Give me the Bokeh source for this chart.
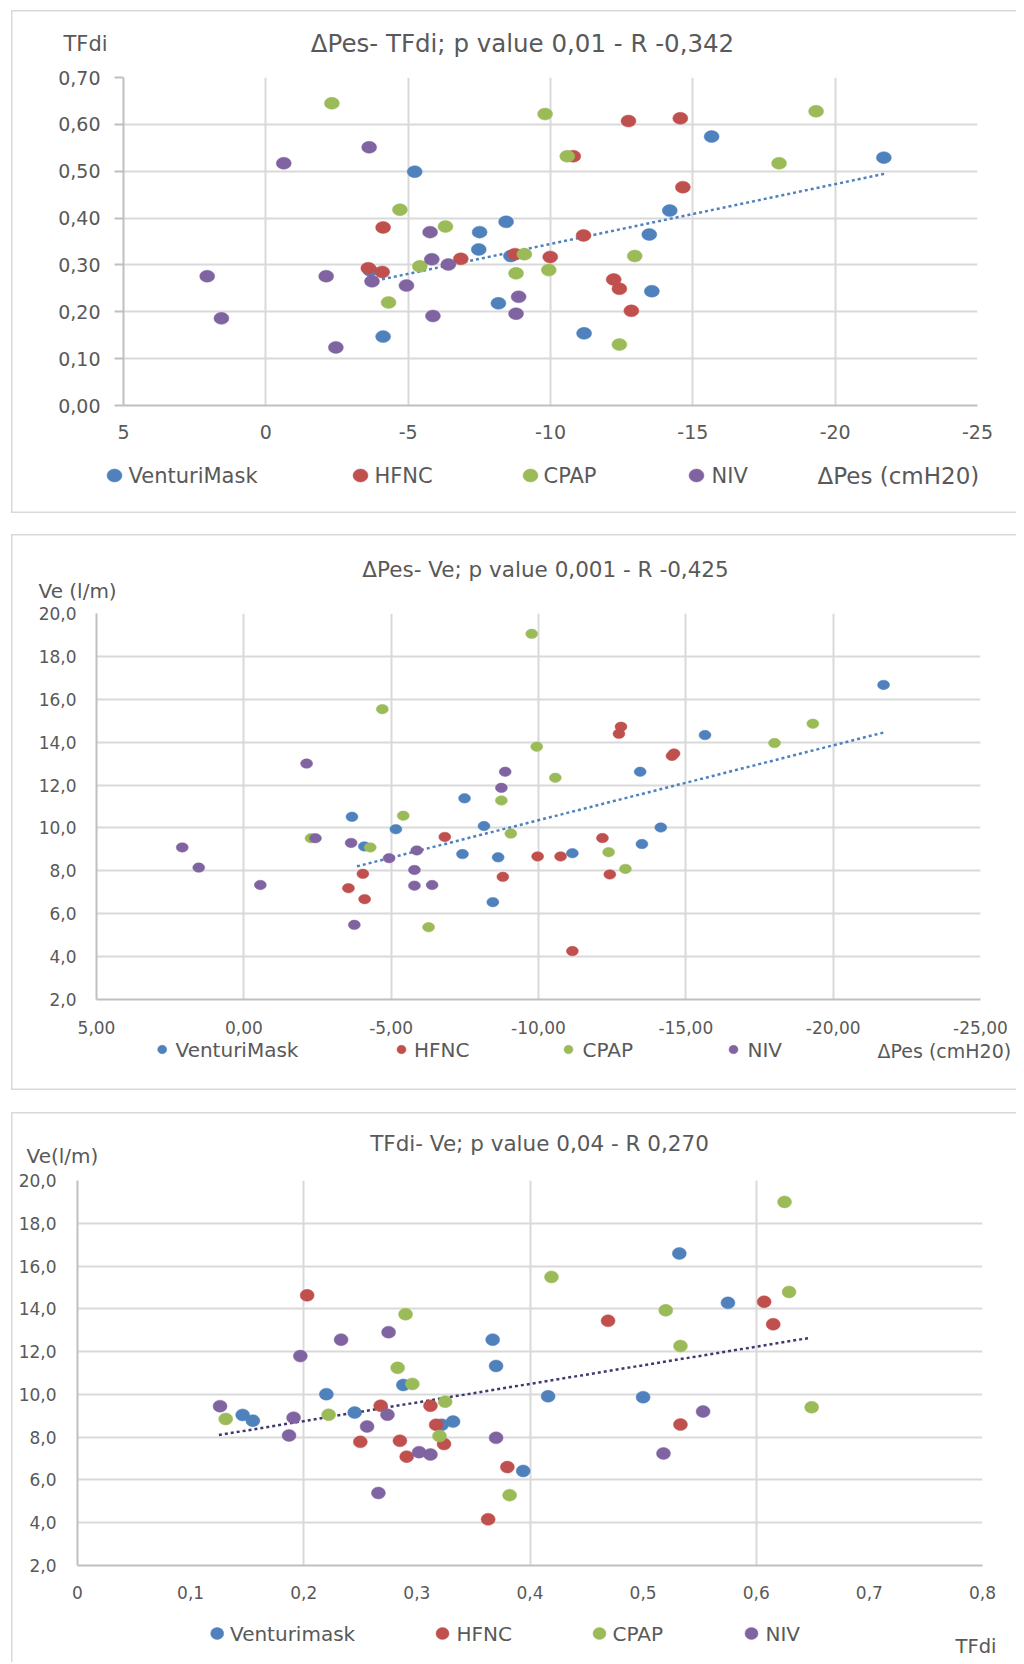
from bokeh.plotting import figure
from bokeh.models import Range1d, FixedTicker, CustomJSTickFormatter
from bokeh.embed import file_html
from bokeh.resources import INLINE
from bokeh.core.properties import value

# ---------------- data ----------------
series_names_a = ["VenturiMask", "HFNC", "CPAP", "NIV"]
series_names_b = ["Venturimask", "HFNC", "CPAP", "NIV"]

# Panel 1: dPes (x) vs TFdi (y)
p1_venturi_x = [-5.23, -7.51, -7.48, -8.44, -8.17, -4.12, -15.66, -21.71, -14.19, -13.47, -8.61, -13.56, -11.18, -3.67]
p1_venturi_y = [0.499, 0.370, 0.333, 0.392, 0.218, 0.147, 0.574, 0.529, 0.416, 0.365, 0.319, 0.244, 0.154, 0.288]
p1_hfnc_x = [-4.12, -6.85, -3.60, -4.09, -12.74, -14.56, -10.80, -14.65, -11.16, -8.75, -9.99, -12.22, -12.42, -12.84]
p1_hfnc_y = [0.380, 0.313, 0.293, 0.285, 0.607, 0.613, 0.532, 0.466, 0.363, 0.323, 0.317, 0.269, 0.249, 0.202]
p1_cpap_x = [-2.32, -4.71, -6.31, -5.41, -4.31, -9.81, -19.33, -10.59, -18.03, -9.08, -12.96, -8.79, -9.94, -12.42]
p1_cpap_y = [0.645, 0.418, 0.382, 0.297, 0.220, 0.622, 0.628, 0.532, 0.517, 0.323, 0.319, 0.282, 0.289, 0.130]
p1_niv_x = [-3.63, -0.63, -5.77, -5.83, -6.41, -3.73, 2.06, -2.12, -4.94, -5.87, 1.56, -2.46, -8.88, -8.79]
p1_niv_y = [0.551, 0.517, 0.370, 0.312, 0.301, 0.265, 0.276, 0.276, 0.256, 0.191, 0.186, 0.124, 0.232, 0.196]
p1_trend_x = [-3.67, -21.77]
p1_trend_y = [0.264, 0.495]

# Panel 2: dPes (x) vs Ve (y)
p2_venturi_x = [-3.67, -5.16, -7.49, -8.15, -4.09, -7.42, -8.45, -8.63, -21.71, -15.65, -13.45, -14.15, -13.51, -11.15]
p2_venturi_y = [10.52, 9.94, 11.38, 10.09, 9.14, 8.78, 6.54, 8.63, 16.67, 14.33, 12.62, 10.02, 9.25, 8.82]
p2_hfnc_x = [-6.82, -4.04, -3.55, -4.10, -8.79, -12.80, -12.73, -14.60, -14.53, -12.17, -9.97, -10.75, -12.42, -11.15]
p2_hfnc_y = [9.58, 7.86, 7.19, 6.68, 7.72, 14.72, 14.39, 13.47, 13.36, 9.53, 8.67, 8.67, 7.83, 4.26]
p2_cpap_x = [-4.70, -5.41, -2.28, -4.29, -6.27, -8.74, -9.77, -19.31, -18.01, -9.94, -10.57, -9.06, -12.38, -12.95]
p2_cpap_y = [15.54, 10.57, 9.52, 9.09, 5.37, 11.28, 19.05, 14.86, 13.96, 13.79, 12.34, 9.74, 8.87, 8.09]
p2_niv_x = [-2.13, -2.43, -3.64, 2.09, 1.53, -0.56, -5.87, -4.93, -5.79, -5.79, -6.39, -3.75, -8.74, -8.87]
p2_niv_y = [13.00, 9.52, 9.30, 9.09, 8.15, 7.34, 8.95, 8.59, 8.04, 7.31, 7.34, 5.48, 11.87, 12.62]
p2_trend_x = [-3.84, -21.77]
p2_trend_y = [8.21, 14.47]

# Panel 3: TFdi (x) vs Ve (y)
p3_venturi_x = [0.367, 0.370, 0.288, 0.220, 0.146, 0.155, 0.245, 0.322, 0.332, 0.532, 0.575, 0.416, 0.500, 0.394]
p3_venturi_y = [12.56, 11.33, 10.44, 10.01, 9.04, 8.77, 9.15, 8.58, 8.73, 16.59, 14.28, 9.91, 9.87, 6.42]
p3_hfnc_x = [0.203, 0.268, 0.312, 0.317, 0.250, 0.285, 0.291, 0.324, 0.363, 0.607, 0.469, 0.615, 0.533, 0.380]
p3_hfnc_y = [14.63, 9.47, 9.47, 8.58, 7.78, 7.83, 7.09, 7.68, 4.16, 14.33, 13.44, 13.28, 8.59, 6.60]
p3_cpap_x = [0.290, 0.283, 0.296, 0.131, 0.222, 0.325, 0.320, 0.625, 0.419, 0.629, 0.520, 0.533, 0.649, 0.382]
p3_cpap_y = [13.75, 11.24, 10.49, 8.85, 9.05, 9.66, 8.05, 19.00, 15.49, 14.79, 13.93, 12.26, 9.40, 5.29]
p3_niv_x = [0.275, 0.233, 0.197, 0.126, 0.191, 0.187, 0.256, 0.274, 0.302, 0.312, 0.370, 0.266, 0.553, 0.518]
p3_niv_y = [12.91, 12.56, 11.79, 9.45, 8.91, 8.08, 8.50, 9.05, 7.30, 7.19, 7.97, 5.39, 9.20, 7.24]
p3_trend_x = [0.125, 0.647]
p3_trend_y = [8.10, 12.64]

# ticks
p1_x_ticks = [5, 0, -5, -10, -15, -20, -25]
p1_y_ticks = [0.0, 0.1, 0.2, 0.3, 0.4, 0.5, 0.6, 0.7]
p2_x_ticks = [5, 0, -5, -10, -15, -20, -25]
p2_y_ticks = [2, 4, 6, 8, 10, 12, 14, 16, 18, 20]
p3_x_ticks = [0.0, 0.1, 0.2, 0.3, 0.4, 0.5, 0.6, 0.7, 0.8]
p3_x_grid = [0.0, 0.2, 0.4, 0.6, 0.8]
p3_y_ticks = [2, 4, 6, 8, 10, 12, 14, 16, 18, 20]

titles = ["\u0394Pes- TFdi; p value 0,01 - R -0,342",
          "\u0394Pes- Ve; p value 0,001 - R -0,425",
          "TFdi- Ve; p value 0,04 - R 0,270"]

# ---------------- style ----------------
COLORS = ["#4F81BD", "#C0504D", "#9BBB59", "#8064A2"]
TEXT = "#595959"
GRID = "#D9D9D9"
AXIS = "#BFBFBF"
FONT = "DejaVu Sans"
PANEL_X = 11
PANEL_W = 1005


def make_panel(cfg):
    shadow = "inset 1.5px 0 0 #D9D9D9, inset 0 1.5px 0 #D9D9D9"
    if cfg["bottom_border"]:
        shadow += ", inset 0 -1.5px 0 #D9D9D9"
    p = figure(width=PANEL_W, height=cfg["H"],
               x_range=Range1d(*cfg["xr"]), y_range=Range1d(*cfg["yr"]),
               output_backend="svg", toolbar_location=None,
               min_border_left=cfg["mbl"], min_border_right=cfg["mbr"],
               min_border_top=cfg["mbt"], min_border_bottom=cfg["mbb"],
               border_fill_color=None, background_fill_color="white",
               outline_line_color=None, margin=(cfg["mt"], 0, 0, PANEL_X),
               styles={"box-shadow": shadow})
    FL = PANEL_X + cfg["mbl"]
    FR = PANEL_X + PANEL_W - cfg["mbr"]
    FT = cfg["y0"] + cfg["mbt"]
    FB = cfg["y0"] + cfg["H"] - cfg["mbb"]
    x0, x1 = cfg["xr"]
    y0, y1 = cfg["yr"]

    def to_data(px, py):
        return (x0 + (px - FL) / (FR - FL) * (x1 - x0),
                y0 + (FB - py) / (FB - FT) * (y1 - y0))

    # axes
    p.xaxis.ticker = FixedTicker(ticks=cfg["xt"])
    p.yaxis.ticker = FixedTicker(ticks=cfg["yt"])
    p.xaxis.formatter = CustomJSTickFormatter(code=cfg["xfmt"])
    p.yaxis.formatter = CustomJSTickFormatter(code=cfg["yfmt"])
    p.xgrid.ticker = FixedTicker(ticks=cfg["xg"])
    p.ygrid.ticker = FixedTicker(ticks=cfg["yt"])
    for g in (p.xgrid, p.ygrid):
        g.grid_line_color = GRID
        g.grid_line_width = 2
    for ax in (p.xaxis, p.yaxis):
        ax.axis_line_color = AXIS
        ax.axis_line_width = 2
        ax.minor_tick_line_color = None
        ax.major_tick_in = 0
        ax.major_label_text_font = FONT
        ax.major_label_text_font_size = cfg["tick_fs"]
        ax.major_label_text_color = TEXT
    p.xaxis.major_tick_out = 0
    p.xaxis.major_tick_line_color = None
    p.xaxis.major_label_standoff = cfg["x_standoff"]
    p.yaxis.major_label_standoff = cfg["y_standoff"]
    if cfg["ytick_out"]:
        p.yaxis.major_tick_out = cfg["ytick_out"]
        p.yaxis.major_tick_line_color = AXIS
        p.yaxis.major_tick_line_width = 2
    else:
        p.yaxis.major_tick_out = 0
        p.yaxis.major_tick_line_color = None

    # trend line
    p.line(cfg["trend"][0], cfg["trend"][1], line_color=cfg["trend_color"],
           line_width=2.5, line_dash="3 3")

    # points
    for color, (xs, ys) in zip(COLORS, cfg["series"]):
        p.ellipse(x=xs, y=ys, width=cfg["mw"], height=cfg["mh"],
                  width_units="screen", height_units="screen",
                  fill_color=color, line_color=color, line_width=0.5)

    # legend row below the x axis (drawn at overlay level so it is not clipped)
    lg = cfg["legend"]
    for name, color, mx, tx in zip(cfg["names"], COLORS, lg["marker_x"], lg["text_x"]):
        mdx, mdy = to_data(mx, lg["cy"])
        p.ellipse(x=[mdx], y=[mdy], width=lg["mw"], height=lg["mh"],
                  width_units="screen", height_units="screen",
                  fill_color=color, line_color=color, line_width=0.5, level="overlay")
        tdx, tdy = to_data(tx, lg["cy"])
        p.text(x=[tdx], y=[tdy], text=[name], text_font=value(FONT),
               text_font_size=value(lg["fs"]), text_color=TEXT, text_align="left",
               text_baseline="middle", level="overlay")

    # titles and axis titles (overlay level, not clipped)
    for text, px, py, fs, align in cfg["labels"]:
        dx, dy = to_data(px, py)
        p.text(x=[dx], y=[dy], text=[text], text_font=value(FONT),
               text_font_size=value(fs), text_color=TEXT, text_align=align,
               text_baseline="middle", level="overlay")
    return p


fmt_int = "return tick.toFixed(0);"
fmt2 = "return tick.toFixed(2).replace('.', ',');"
fmt1 = "return tick.toFixed(1).replace('.', ',');"
fmt3x = "return tick === 0 ? '0' : tick.toFixed(1).replace('.', ',');"

cfg1 = dict(H=503, y0=10, mt=10, mbl=112, mbr=39, mbt=67, mbb=108, bottom_border=True,
            xr=(5, -25), yr=(0, 0.7), xt=p1_x_ticks, xg=p1_x_ticks, yt=p1_y_ticks,
            xfmt=fmt_int, yfmt=fmt2, tick_fs="19px", x_standoff=19, y_standoff=14, ytick_out=9,
            trend=(p1_trend_x, p1_trend_y), trend_color="#4F81BD",
            names=series_names_a, mw=15, mh=12,
            series=[(p1_venturi_x, p1_venturi_y), (p1_hfnc_x, p1_hfnc_y),
                    (p1_cpap_x, p1_cpap_y), (p1_niv_x, p1_niv_y)],
            legend=dict(marker_x=[114, 360, 530, 696], text_x=[128, 374, 543, 711],
                        cy=475, mw=15, mh=13, fs="21px"),
            labels=[(titles[0], 522, 43, "24.5px", "center"),
                    ("TFdi", 63, 43, "21px", "left"),
                    ("\u0394Pes (cmH20)", 817, 475, "23px", "left")])

cfg2 = dict(H=556, y0=534, mt=21, mbl=85, mbr=36, mbt=79, mbb=91, bottom_border=True,
            xr=(5, -25), yr=(2, 20), xt=p2_x_ticks, xg=p2_x_ticks, yt=p2_y_ticks,
            xfmt=fmt2, yfmt=fmt1, tick_fs="17px", x_standoff=21, y_standoff=20, ytick_out=0,
            trend=(p2_trend_x, p2_trend_y), trend_color="#4F81BD",
            names=series_names_a, mw=12, mh=9.5,
            series=[(p2_venturi_x, p2_venturi_y), (p2_hfnc_x, p2_hfnc_y),
                    (p2_cpap_x, p2_cpap_y), (p2_niv_x, p2_niv_y)],
            legend=dict(marker_x=[161.7, 401, 568, 733], text_x=[175, 413.5, 582, 747],
                        cy=1049, mw=9, mh=8.5, fs="20px"),
            labels=[(titles[1], 545, 569, "21.5px", "center"),
                    ("Ve (l/m)", 38, 590, "20px", "left"),
                    ("\u0394Pes (cmH20)", 877, 1050, "19px", "left")])

cfg3 = dict(H=550, y0=1112, mt=22, mbl=66, mbr=34, mbt=68, mbb=97, bottom_border=False,
            xr=(0, 0.8), yr=(2, 20), xt=p3_x_ticks, xg=p3_x_grid, yt=p3_y_ticks,
            xfmt=fmt3x, yfmt=fmt1, tick_fs="17px", x_standoff=20, y_standoff=21, ytick_out=0,
            trend=(p3_trend_x, p3_trend_y), trend_color="#3F3A6E",
            names=series_names_b, mw=14, mh=12,
            series=[(p3_venturi_x, p3_venturi_y), (p3_hfnc_x, p3_hfnc_y),
                    (p3_cpap_x, p3_cpap_y), (p3_niv_x, p3_niv_y)],
            legend=dict(marker_x=[216.7, 442, 599, 751], text_x=[229.5, 456, 612, 765],
                        cy=1633, mw=13, mh=12, fs="20px"),
            labels=[(titles[2], 539, 1143, "21.5px", "center"),
                    ("Ve(l/m)", 26, 1155, "20px", "left"),
                    ("TFdi", 955, 1646, "19.5px", "left")])

p1 = make_panel(cfg1)
p2 = make_panel(cfg2)
p3 = make_panel(cfg3)

# separate roots, so that the plot frames are not aligned with each other
open("out.html", "w").write(file_html([p1, p2, p3], INLINE))
